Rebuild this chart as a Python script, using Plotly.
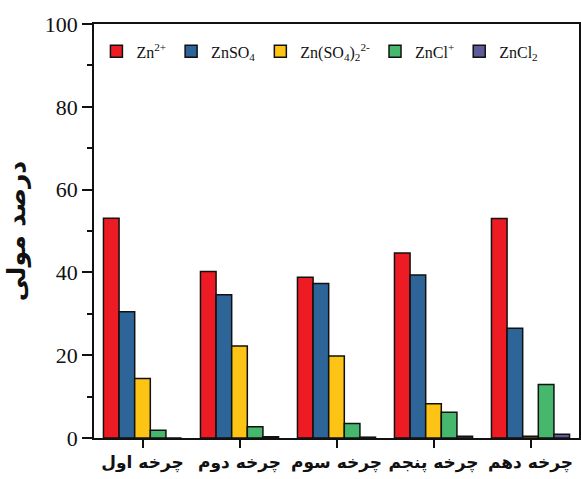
import plotly.graph_objects as go

# Cycles (categories) and species mole-percent values
cycles = ["چرخه اول", "چرخه دوم", "چرخه سوم", "چرخه پنجم", "چرخه دهم"]

zn2 = [53.1, 40.2, 38.8, 44.7, 53.0]
znso4 = [30.5, 34.6, 37.3, 39.4, 26.5]
zn_so4_2 = [14.4, 22.2, 19.8, 8.3, 0.4]
zncl = [1.9, 2.7, 3.5, 6.2, 12.9]
zncl2 = [0.0, 0.3, 0.2, 0.4, 0.9]

series_names = [
    "Zn<sup>2+</sup>",
    "ZnSO<sub>4</sub>",
    "Zn(SO<sub>4</sub>)<sub>2</sub><sup>2-</sup>",
    "ZnCl<sup>+</sup>",
    "ZnCl<sub>2</sub>",
]
series_values = [zn2, znso4, zn_so4_2, zncl, zncl2]
series_colors = ["#ED1C24", "#2D6598", "#FDC415", "#45B86E", "#5F5B99"]

y_ticks = [0, 20, 40, 60, 80, 100]

fig = go.Figure()
for name, vals, col in zip(series_names, series_values, series_colors):
    fig.add_trace(go.Bar(
        x=cycles, y=vals, name=name,
        marker=dict(color=col, line=dict(color="#111111", width=1.5)),
    ))

serif = "Liberation Serif, Times New Roman, serif"

fig.update_layout(
    width=581, height=479,
    margin=dict(l=94, r=2, t=24, b=41, autoexpand=False),
    paper_bgcolor="white", plot_bgcolor="white",
    barmode="group", bargap=0.195, bargroupgap=0,
    showlegend=True,
    legend=dict(
        orientation="h", x=0.005, y=0.975, xanchor="left", yanchor="top",
        font=dict(family=serif, size=16, color="#111111"),
        bgcolor="rgba(0,0,0,0)", itemwidth=30, tracegroupgap=0,
    ),
    xaxis=dict(
        range=[-0.5, 4.5], automargin=False, tickangle=0,
        showline=True, linecolor="#111111", linewidth=1.5, mirror=True,
        ticks="outside", ticklen=8, tickwidth=1.5, tickcolor="#111111",
        tickfont=dict(family="DejaVu Sans", size=17, color="#111111", weight="bold"),
        showgrid=False, zeroline=False,
    ),
    yaxis=dict(
        range=[0, 100], automargin=False,
        tickvals=y_ticks,
        showline=True, linecolor="#111111", linewidth=1.5, mirror=True,
        ticks="outside", ticklen=10, tickwidth=1.5, tickcolor="#111111",
        minor=dict(dtick=10, ticks="outside", ticklen=5, tickwidth=1.5, tickcolor="#111111"),
        tickfont=dict(family=serif, size=22, color="#111111"),
        showgrid=False, zeroline=False,
        title=dict(
            text="درصد مولی",
            font=dict(family="DejaVu Sans", size=25, color="#111111", weight="bold"),
            standoff=12,
        ),
    ),
)

fig.write_html("out.html")
